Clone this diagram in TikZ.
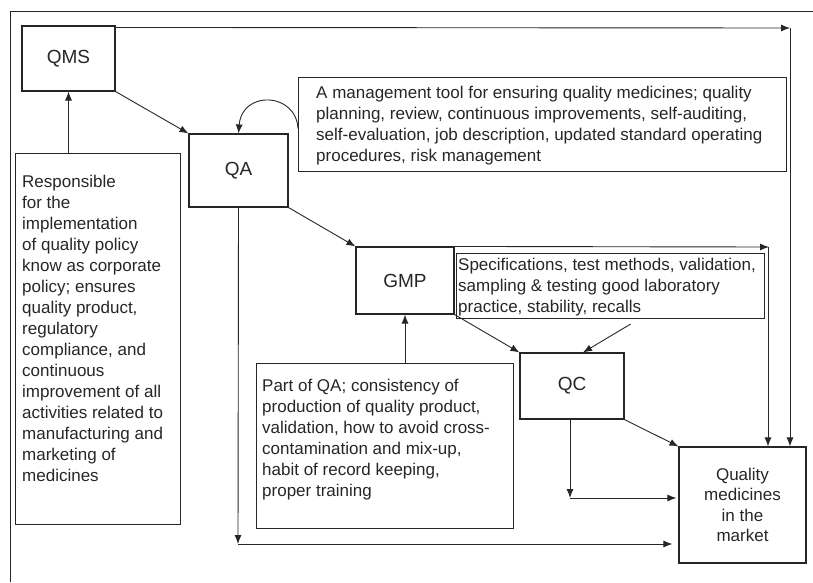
\documentclass[tikz,border=0pt]{standalone}
\usepackage{fontspec}
\setmainfont{Liberation Sans}
\usetikzlibrary{positioning, arrows.meta}

\tikzset{
  box/.style={draw, line width=1.1pt, inner sep=0pt},
  label box/.style={box, font=\fontsize{19}{22}\selectfont},
  note/.style={inner sep=0pt, align=left},
  arr/.style={line width=0.9pt, -{Latex[length=9pt,width=7pt]}},
}

\begin{document}
\begin{tikzpicture}[x=1pt, y=-1pt, font=\fontsize{17}{21}\selectfont, color=black!85]

\useasboundingbox (0,0) rectangle (813,582);

% Rahmen (oben und links)
\draw[line width=0.9pt] (813,11) -- (10,11) -- (10,582);

% Hauptkaesten
\node[label box, minimum width=93pt, minimum height=65pt] (qms) at (68.5,58.5) {QMS};
\node[label box, minimum width=99pt, minimum height=73pt] (qa) at (238.5,170.5) {QA};
\node[label box, minimum width=98pt, minimum height=67pt] (gmp) at (405,280.5) {GMP};
\node[label box, minimum width=104pt, minimum height=66pt] (qc) at (572,386) {QC};
\node[box, minimum width=127pt, minimum height=116pt, align=center,
      font=\fontsize{17}{20.2}\selectfont] (market) at (742.5,505)
  {Quality\\medicines\\in the\\market};

% Erlaeuterungen
\node[box, anchor=north west, minimum width=488pt, minimum height=94pt] (mgmt) at (298,77) {};
\node[note, below right=9pt and 18pt of mgmt.north west] (mgmtText)
  {A management tool for ensuring quality medicines; quality\\
   planning, review, continuous improvements, self-auditing,\\
   self-evaluation, job description, updated standard operating\\
   procedures, risk management};

\node[box, anchor=north west, minimum width=308pt, minimum height=65pt] (spec) at (456,253) {};
\node[note, below right=5pt and 2pt of spec.north west] (specText)
  {Specifications, test methods, validation,\\
   sampling \& testing good laboratory\\
   practice, stability, recalls};

\node[box, anchor=north west, minimum width=257pt, minimum height=165pt] (part) at (256,363) {};
\node[note, below right=16pt and 6pt of part.north west] (partText)
  {Part of QA; consistency of\\
   production of quality product,\\
   validation, how to avoid cross-\\
   contamination and mix-up,\\
   habit of record keeping,\\
   proper training};

\node[box, anchor=north west, minimum width=165pt, minimum height=371pt] (resp) at (15,153) {};
\node[note, below right=22pt and 7pt of resp.north west] (respText)
  {Responsible\\for the\\implementation\\of quality policy\\know as corporate\\
   policy; ensures\\quality product,\\regulatory\\compliance, and\\continuous\\
   improvement of all\\activities related to\\manufacturing and\\marketing of\\medicines};

% Hilfspunkte
\coordinate (topR) at (790,28);
\coordinate (gmpR) at (769,247);
\coordinate (qcDown) at (570,498);
\coordinate (qaDown) at (238,544);

% Verbindungen
\draw[arr] ([yshift=-2pt]qms.north east) -- (topR);
\draw[arr] (topR) -- (topR |- market.north);
\draw[arr] (qms.south east) -- (qa.north west);
\draw[arr] ([yshift=-4pt]mgmt.west) .. controls (296,92) and (242,90) .. (qa.north);
\draw[arr] (qa.south east) -- (gmp.north west);
\draw[arr] (qa.south) -- (qaDown);
\draw[arr, shorten >=6pt] (qaDown) -- (qaDown -| market.west);
\draw[arr] (gmp.north east) -- (gmpR);
\draw[arr] ([xshift=-1pt]gmpR) -- ([xshift=-1pt]gmpR |- market.north);
\draw[arr] (gmp.south east) -- (qc.north west);
\draw[arr] ([xshift=20pt,yshift=-5pt]spec.south) -- ([xshift=11pt]qc.north);
\draw[arr] (qc.south east) -- (market.north west);
\draw[arr] (qcDown |- qc.south) -- (qcDown);
\draw[arr, shorten >=2pt] (qcDown) -- (qcDown -| market.west);
\draw[arr] (qms.south |- resp.north) -- (qms.south);
\draw[arr] (gmp.south |- part.north) -- (gmp.south);

\end{tikzpicture}
\end{document}
